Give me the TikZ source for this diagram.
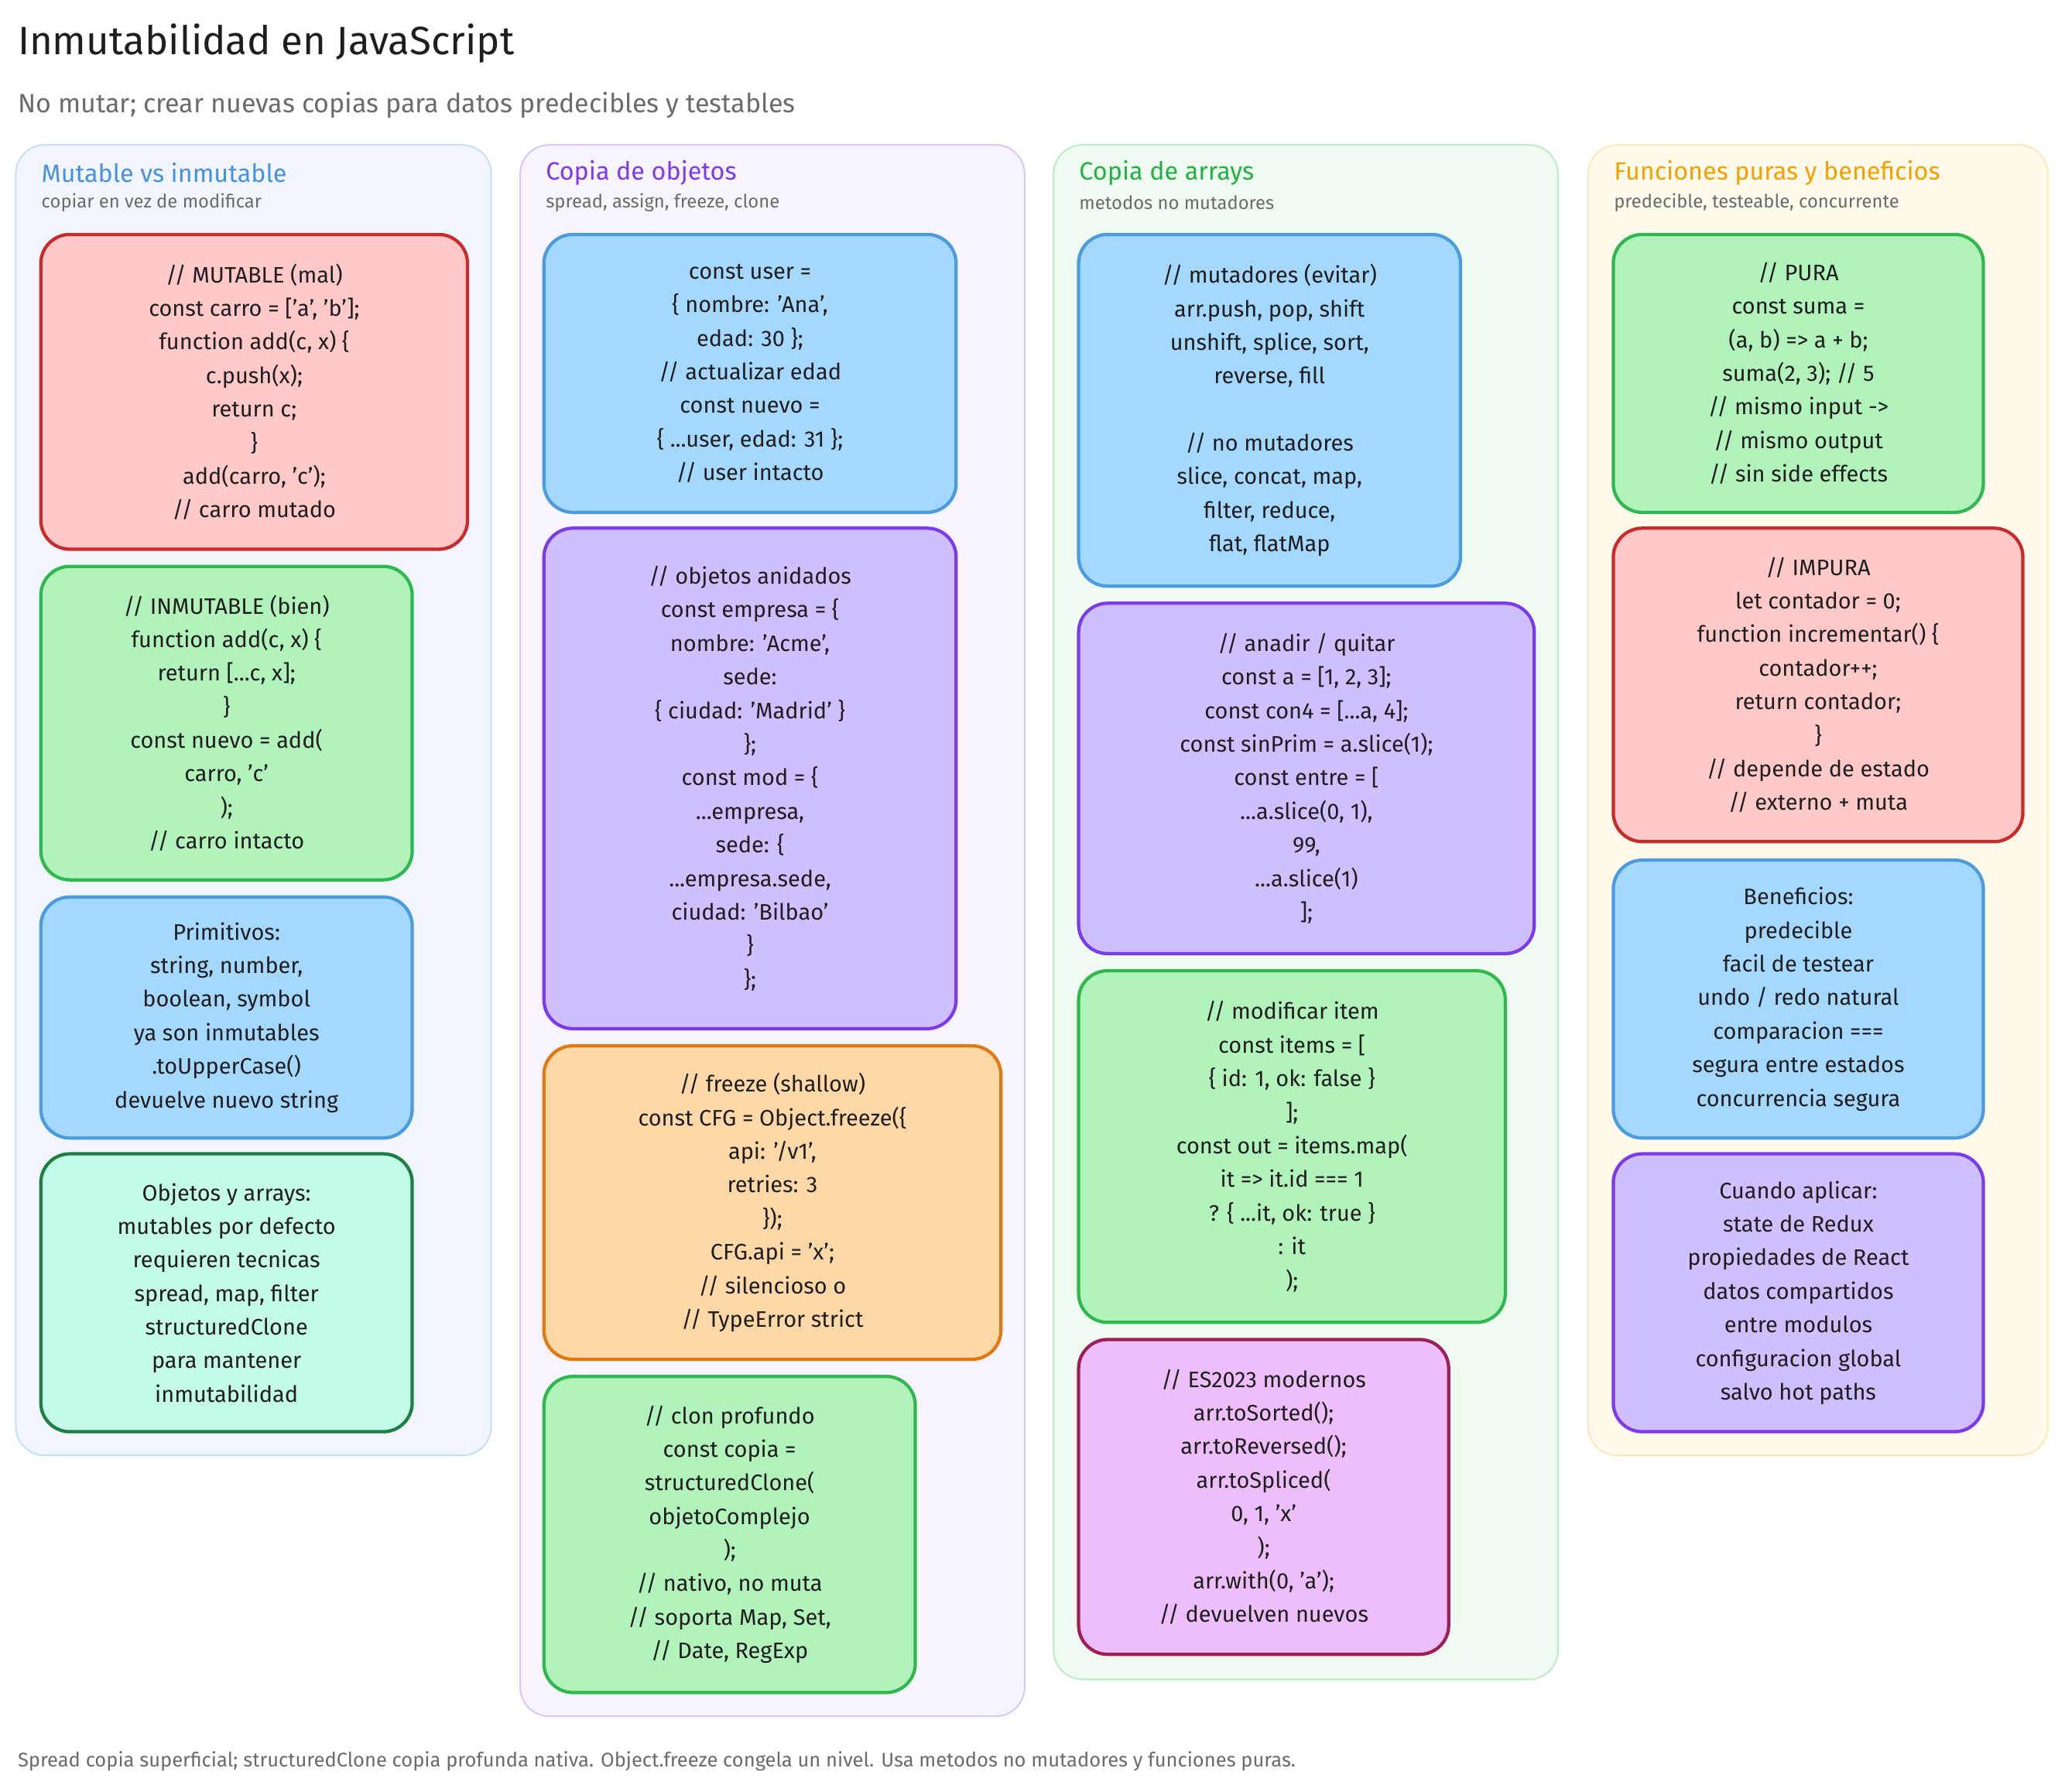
\documentclass[tikz,border=0pt]{standalone}
\usepackage{fontspec}
\setmainfont{Fira Sans}
\definecolor{tx}{HTML}{1E1E1E}
\definecolor{gr}{HTML}{6B6B6B}
\definecolor{redF}{HTML}{FFC9C9}\definecolor{redD}{HTML}{C92A2A}
\definecolor{grnF}{HTML}{B2F2BB}\definecolor{grnD}{HTML}{2FB84F}
\definecolor{bluF}{HTML}{A5D8FF}\definecolor{bluD}{HTML}{4A9BE0}
\definecolor{tealF}{HTML}{C3FAE8}\definecolor{tealD}{HTML}{1E7E44}
\definecolor{purF}{HTML}{D0BFFF}\definecolor{purD}{HTML}{7C3AED}
\definecolor{orF}{HTML}{FFD8A8}\definecolor{orD}{HTML}{E07A10}
\definecolor{pinkF}{HTML}{EEBEFA}\definecolor{pinkD}{HTML}{9C1F55}
\definecolor{c1F}{HTML}{F1F6FE}\definecolor{c1D}{HTML}{C8DDF7}\definecolor{c1T}{HTML}{4A90E2}
\definecolor{c2F}{HTML}{F7F4FE}\definecolor{c2D}{HTML}{D6C8F8}\definecolor{c2T}{HTML}{7C3AED}
\definecolor{c3F}{HTML}{EFFBF1}\definecolor{c3D}{HTML}{BFEBC8}\definecolor{c3T}{HTML}{22B043}
\definecolor{c4F}{HTML}{FFFAEB}\definecolor{c4D}{HTML}{FBE9B8}\definecolor{c4T}{HTML}{F5A000}
\tikzset{
 colbox/.style={rounded corners=22pt,line width=1.2pt},
 cbox/.style={rounded corners=22pt,line width=2.5pt,inner sep=0pt,align=center,text=tx,
   font=\fontsize{17}{25.5}\selectfont},
 head/.style={anchor=west,font=\fontsize{19}{22}\selectfont},
 sub/.style={anchor=west,text=gr,font=\fontsize{14}{16}\selectfont},
}
\newcommand{\bx}[8]{\node[cbox,fill=#6,draw=#7,minimum width=#4-#2,minimum height=#5-#3] (#1) at ({(#2+#4)/2},{(#3+#5)/2}) {#8};}
\begin{document}
\begin{tikzpicture}[x=1pt,y=-1pt]
\useasboundingbox[fill=white] (0,0) rectangle (1568,1360);
\node[anchor=west,text=tx,font=\fontsize{30}{34}\selectfont] (title) at (10,33) {Inmutabilidad en JavaScript};
\node[anchor=west,text=gr,font=\fontsize{20}{24}\selectfont] (subt) at (10,80) {No mutar; crear nuevas copias para datos predecibles y testables};
% columns
\draw[colbox,fill=c1F,draw=c1D] (12,110) rectangle (373,1105);
\draw[colbox,fill=c2F,draw=c2D] (395,110) rectangle (778,1303);
\draw[colbox,fill=c3F,draw=c3D] (800,110) rectangle (1183,1275);
\draw[colbox,fill=c4F,draw=c4D] (1206,110) rectangle (1555,1105);
\node[head,text=c1T] (h1) at (28,131) {Mutable vs inmutable};
\node[sub] (s1) at (28,154) {copiar en vez de modificar};
\node[head,text=c2T] (h2) at (411,131) {Copia de objetos};
\node[sub] (s2) at (411,154) {spread, assign, freeze, clone};
\node[head,text=c3T] (h3) at (816,131) {Copia de arrays};
\node[sub] (s3) at (816,154) {metodos no mutadores};
\node[head,text=c4T] (h4) at (1222,131) {Funciones puras y beneficios};
\node[sub] (s4) at (1222,154) {predecible, testeable, concurrente};
% col1
\bx{a1}{31}{178}{355}{417}{redF}{redD}{// MUTABLE (mal)\\const carro = ['a', 'b'];\\function add(c, x) \{\\c.push(x);\\return c;\\\}\\add(carro, 'c');\\// carro mutado}
\bx{a2}{31}{430}{313}{668}{grnF}{grnD}{// INMUTABLE (bien)\\function add(c, x) \{\\return [...c, x];\\\}\\const nuevo = add(\\carro, 'c'\\);\\// carro intacto}
\bx{a3}{31}{681}{313}{864}{bluF}{bluD}{Primitivos:\\string, number,\\boolean, symbol\\ya son inmutables\\.toUpperCase()\\devuelve nuevo string}
\bx{a4}{31}{876}{313}{1087}{tealF}{tealD}{Objetos y arrays:\\mutables por defecto\\requieren tecnicas\\spread, map, filter\\structuredClone\\para mantener\\inmutabilidad}
% col2
\bx{b1}{413}{178}{726}{389}{bluF}{bluD}{const user =\\\{ nombre: 'Ana',\\edad: 30 \};\\// actualizar edad\\const nuevo =\\\{ ...user, edad: 31 \};\\// user intacto}
\bx{b2}{413}{401}{726}{781}{purF}{purD}{// objetos anidados\\const empresa = \{\\nombre: 'Acme',\\sede:\\\{ ciudad: 'Madrid' \}\\\};\\const mod = \{\\...empresa,\\sede: \{\\...empresa.sede,\\ciudad: 'Bilbao'\\\}\\\};}
\bx{b3}{413}{794}{760}{1032}{orF}{orD}{// freeze (shallow)\\const CFG = Object.freeze(\{\\api: '/v1',\\retries: 3\\\});\\CFG.api = 'x';\\// silencioso o\\// TypeError strict}
\bx{b4}{413}{1045}{695}{1285}{grnF}{grnD}{// clon profundo\\const copia =\\structuredClone(\\objetoComplejo\\);\\// nativo, no muta\\// soporta Map, Set,\\// Date, RegExp}
% col3
\bx{c1}{819}{178}{1109}{445}{bluF}{bluD}{// mutadores (evitar)\\arr.push, pop, shift\\unshift, splice, sort,\\reverse, fill\\\strut\\// no mutadores\\slice, concat, map,\\filter, reduce,\\flat, flatMap}
\bx{c2}{819}{458}{1165}{724}{purF}{purD}{// anadir / quitar\\const a = [1, 2, 3];\\const con4 = [...a, 4];\\const sinPrim = a.slice(1);\\const entre = [\\...a.slice(0, 1),\\99,\\...a.slice(1)\\];}
\bx{c3}{819}{737}{1143}{1004}{grnF}{grnD}{// modificar item\\const items = [\\\{ id: 1, ok: false \}\\];\\const out = items.map(\\it => it.id === 1\\? \{ ...it, ok: true \}\\: it\\);}
\bx{c4}{819}{1017}{1100}{1256}{pinkF}{pinkD}{// ES2023 modernos\\arr.toSorted();\\arr.toReversed();\\arr.toSpliced(\\0, 1, 'x'\\);\\arr.with(0, 'a');\\// devuelven nuevos}
% col4
\bx{d1}{1225}{178}{1506}{389}{grnF}{grnD}{// PURA\\const suma =\\(a, b) => a + b;\\suma(2, 3); // 5\\// mismo input ->\\// mismo output\\// sin side effects}
\bx{d2}{1225}{401}{1536}{639}{redF}{redD}{// IMPURA\\let contador = 0;\\function incrementar() \{\\contador++;\\return contador;\\\}\\// depende de estado\\// externo + muta}
\bx{d3}{1225}{653}{1506}{864}{bluF}{bluD}{Beneficios:\\predecible\\facil de testear\\undo / redo natural\\comparacion ===\\segura entre estados\\concurrencia segura}
\bx{d4}{1225}{876}{1506}{1087}{purF}{purD}{Cuando aplicar:\\state de Redux\\propiedades de React\\datos compartidos\\entre modulos\\configuracion global\\salvo hot paths}
\node[anchor=west,text=gr,font=\fontsize{15}{18}\selectfont] (foot) at (10,1337) {Spread copia superficial; structuredClone copia profunda nativa. Object.freeze congela un nivel. Usa metodos no mutadores y funciones puras.};
\end{tikzpicture}
\end{document}
